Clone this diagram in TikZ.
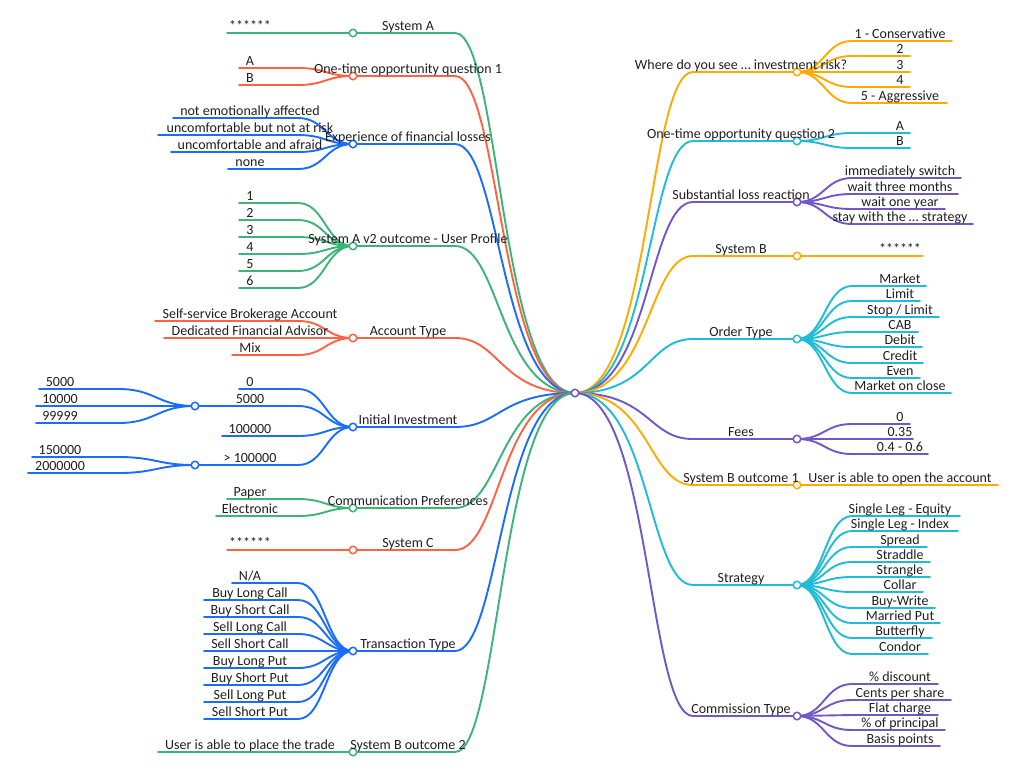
\documentclass[tikz,border=0pt]{standalone}
\usepackage{fontspec}
\setmainfont{Carlito}
\pgfdeclarelayer{bg}
\pgfsetlayers{bg,main}
\definecolor{cG}{RGB}{60,180,120}
\definecolor{cR}{RGB}{255,98,66}
\definecolor{cB}{RGB}{24,108,255}
\definecolor{cO}{RGB}{255,170,0}
\definecolor{cC}{RGB}{30,188,214}
\definecolor{cP}{RGB}{112,88,200}
\tikzset{
  br/.style={line width=1.9pt, line cap=round},
  dot/.style={circle, draw, fill=white, line width=1.5pt, minimum size=7.5pt, inner sep=0pt},
  lbl/.style={anchor=base, inner sep=0pt, text=black!88, font=\fontsize{14}{16}\selectfont},
}
\newcommand\mainL[4]{%
  \node[dot,draw=#3] (#1) at (353,#2) {};
  \node[lbl] (#1-t) at (408,#2-2.5) {#4};
  \coordinate (#1-j) at (455,#2);
  \begin{pgfonlayer}{bg}
  \draw[br,#3] (c.center) .. controls +(-75,0) and +(45,0) .. (#1-j) -- (#1.center);
  \end{pgfonlayer}}
\newcommand\mainR[4]{%
  \node[dot,draw=#3] (#1) at (797,#2) {};
  \node[lbl] (#1-t) at (741,#2-2.5) {#4};
  \coordinate (#1-j) at (693,#2);
  \begin{pgfonlayer}{bg}
  \draw[br,#3] (c.center) .. controls +(75,0) and +(-45,0) .. (#1-j) -- (#1.center);
  \end{pgfonlayer}}
\newcommand\kidL[6]{%
  \node[lbl] (#2) at (250,#3-2.5) {#5};
  \coordinate (#2-a) at (298,#3);
  \coordinate (#2-b) at (#6,#3);
  \begin{pgfonlayer}{bg}
  \draw[br,#4] (#1.center) .. controls +(-27,0) and +(27,0) .. (#2-a) -- (#2-b);
  \end{pgfonlayer}}
\newcommand\kidR[6]{%
  \node[lbl] (#2) at (900,#3-2.5) {#5};
  \coordinate (#2-a) at (852,#3);
  \coordinate (#2-b) at (#6,#3);
  \begin{pgfonlayer}{bg}
  \draw[br,#4] (#1.center) .. controls +(27,0) and +(-27,0) .. (#2-a) -- (#2-b);
  \end{pgfonlayer}}
\newcommand\kidLL[6]{%
  \node[lbl] (#2) at (60,#3-2.5) {#5};
  \coordinate (#2-a) at (118,#3);
  \coordinate (#2-b) at (#6,#3);
  \begin{pgfonlayer}{bg}
  \draw[br,#4] (#1.center) .. controls +(-38,0) and +(38,0) .. (#2-a) -- (#2-b);
  \end{pgfonlayer}}
\begin{document}
\begin{tikzpicture}[x=1pt,y=-1pt]
\useasboundingbox (0,0) rectangle (1024,772);
\node[dot,draw=cP] (c) at (575,393) {};
% ---------- left side ----------
\mainL{sa}{33}{cG}{System A}
\kidL{sa}{sa1}{33}{cG}{******}{227}
\mainL{oq}{76}{cR}{One-time opportunity question 1}
\kidL{oq}{oq1}{68}{cR}{A}{239}
\kidL{oq}{oq2}{85}{cR}{B}{239}
\mainL{ex}{144}{cB}{Experience of financial losses}
\kidL{ex}{ex1}{118}{cB}{not emotionally affected}{173}
\kidL{ex}{ex2}{135}{cB}{uncomfortable but not at risk}{158}
\kidL{ex}{ex3}{152}{cB}{uncomfortable and afraid}{171}
\kidL{ex}{ex4}{169}{cB}{none}{228}
\mainL{up}{246}{cG}{System A v2 outcome - User Profile}
\kidL{up}{up1}{203}{cG}{1}{239}
\kidL{up}{up2}{220}{cG}{2}{239}
\kidL{up}{up3}{237}{cG}{3}{239}
\kidL{up}{up4}{254}{cG}{4}{239}
\kidL{up}{up5}{271}{cG}{5}{239}
\kidL{up}{up6}{288}{cG}{6}{239}
\mainL{at}{338}{cR}{Account Type}
\kidL{at}{at1}{321}{cR}{Self-service Brokerage Account}{155}
\kidL{at}{at2}{338}{cR}{Dedicated Financial Advisor}{164}
\kidL{at}{at3}{355}{cR}{Mix}{232}
\mainL{ii}{427}{cB}{Initial Investment}
\kidL{ii}{ii1}{389}{cB}{0}{239}
\kidL{ii}{ii2}{406}{cB}{5000}{195}
\node[dot,draw=cB] (ii2d) at (195,406) {};
\kidL{ii}{ii3}{436}{cB}{100000}{222}
\kidL{ii}{ii4}{465}{cB}{> 100000}{195}
\node[dot,draw=cB] (ii4d) at (195,465) {};
\kidLL{ii2d}{g1}{389}{cB}{5000}{39}
\kidLL{ii2d}{g2}{406}{cB}{10000}{36}
\kidLL{ii2d}{g3}{423}{cB}{99999}{36}
\kidLL{ii4d}{g4}{457}{cB}{150000}{32}
\kidLL{ii4d}{g5}{473}{cB}{2000000}{28}
\mainL{cp}{508}{cG}{Communication Preferences}
\kidL{cp}{cp1}{499}{cG}{Paper}{227}
\kidL{cp}{cp2}{516}{cG}{Electronic}{216}
\mainL{sc}{550}{cR}{System C}
\kidL{sc}{sc1}{550}{cR}{******}{227}
\mainL{tt}{651}{cB}{Transaction Type}
\kidL{tt}{tt1}{583}{cB}{N/A}{232}
\kidL{tt}{tt2}{600}{cB}{Buy Long Call}{204}
\kidL{tt}{tt3}{617}{cB}{Buy Short Call}{204}
\kidL{tt}{tt4}{634}{cB}{Sell Long Call}{204}
\kidL{tt}{tt5}{651}{cB}{Sell Short Call}{204}
\kidL{tt}{tt6}{668}{cB}{Buy Long Put}{204}
\kidL{tt}{tt7}{685}{cB}{Buy Short Put}{204}
\kidL{tt}{tt8}{702}{cB}{Sell Long Put}{204}
\kidL{tt}{tt9}{719}{cB}{Sell Short Put}{204}
\mainL{b2}{752}{cG}{System B outcome 2}
\kidL{b2}{b21}{752}{cG}{User is able to place the trade}{158}
% ---------- right side ----------
\mainR{wr}{72}{cO}{Where do you see … investment risk?}
\kidR{wr}{wr1}{41}{cO}{1 - Conservative}{952}
\kidR{wr}{wr2}{56}{cO}{2}{910}
\kidR{wr}{wr3}{72}{cO}{3}{910}
\kidR{wr}{wr4}{87}{cO}{4}{910}
\kidR{wr}{wr5}{103}{cO}{5 - Aggressive}{947}
\mainR{o2}{141}{cC}{One-time opportunity question 2}
\kidR{o2}{o21}{133}{cC}{A}{910}
\kidR{o2}{o22}{148}{cC}{B}{910}
\mainR{sl}{202}{cP}{Substantial loss reaction}
\kidR{sl}{sl1}{178}{cP}{immediately switch}{961}
\kidR{sl}{sl2}{194}{cP}{wait three months}{958}
\kidR{sl}{sl3}{209}{cP}{wait one year}{945}
\kidR{sl}{sl4}{224}{cP}{stay with the … strategy}{973}
\mainR{sb}{256}{cO}{System B}
\kidR{sb}{sb1}{256}{cO}{******}{923}
\mainR{ot}{339}{cC}{Order Type}
\kidR{ot}{ot1}{286}{cC}{Market}{926}
\kidR{ot}{ot2}{301}{cC}{Limit}{920}
\kidR{ot}{ot3}{317}{cC}{Stop / Limit}{939}
\kidR{ot}{ot4}{332}{cC}{CAB}{918}
\kidR{ot}{ot5}{347}{cC}{Debit}{922}
\kidR{ot}{ot6}{363}{cC}{Credit}{923}
\kidR{ot}{ot7}{378}{cC}{Even}{920}
\kidR{ot}{ot8}{393}{cC}{Market on close}{951}
\mainR{fe}{439}{cP}{Fees}
\kidR{fe}{fe1}{424}{cP}{0}{910}
\kidR{fe}{fe2}{439}{cP}{0.35}{913}
\kidR{fe}{fe3}{454}{cP}{0.4 - 0.6}{928}
\mainR{b1}{485}{cO}{System B outcome 1}
\kidR{b1}{b11}{485}{cO}{User is able to open the account}{998}
\mainR{st}{585}{cC}{Strategy}
\kidR{st}{st1}{516}{cC}{Single Leg - Equity}{960}
\kidR{st}{st2}{531}{cC}{Single Leg - Index}{958}
\kidR{st}{st3}{547}{cC}{Spread}{927}
\kidR{st}{st4}{562}{cC}{Straddle}{930}
\kidR{st}{st5}{577}{cC}{Strangle}{930}
\kidR{st}{st6}{592}{cC}{Collar}{923}
\kidR{st}{st7}{608}{cC}{Buy-Write}{935}
\kidR{st}{st8}{623}{cC}{Married Put}{940}
\kidR{st}{st9}{638}{cC}{Butterfly}{932}
\kidR{st}{st10}{654}{cC}{Condor}{928}
\mainR{ct}{716}{cP}{Commission Type}
\kidR{ct}{ct1}{684}{cP}{\% discount}{938}
\kidR{ct}{ct2}{700}{cP}{Cents per share}{951}
\kidR{ct}{ct3}{715}{cP}{Flat charge}{938}
\kidR{ct}{ct4}{730}{cP}{\% of principal}{945}
\kidR{ct}{ct5}{746}{cP}{Basis points}{940}
\end{tikzpicture}
\end{document}
